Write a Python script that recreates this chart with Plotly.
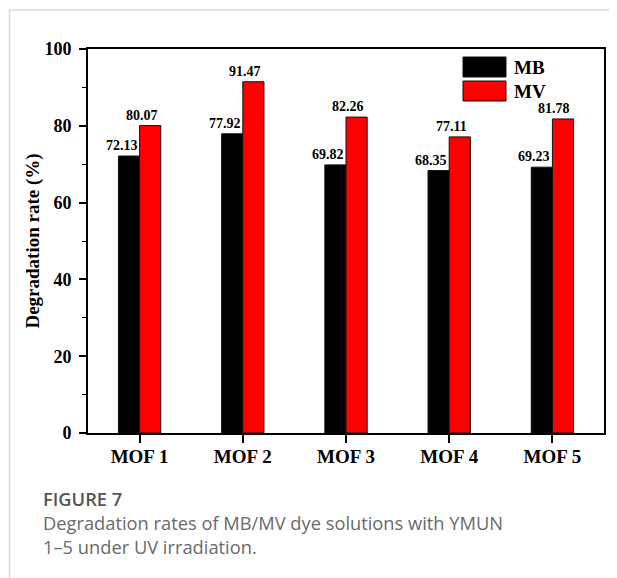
import plotly.graph_objects as go

categories = ["MOF 1", "MOF 2", "MOF 3", "MOF 4", "MOF 5"]
mb_values = [72.13, 77.92, 69.82, 68.35, 69.23]
mv_values = [80.07, 91.47, 82.26, 77.11, 81.78]
series_names = ["MB", "MV"]
series_colors = ["#000000", "#ff0000"]
y_ticks = [0, 20, 40, 60, 80, 100]

SERIF = "Liberation Serif, Times New Roman, serif"
SANS = "Open Sans, Noto Sans, sans-serif"

fig = go.Figure()
for name, vals, col in zip(series_names, [mb_values, mv_values], series_colors):
    fig.add_trace(go.Bar(
        x=categories, y=vals, name=name,
        marker=dict(color=col, line=dict(color="#111111", width=1)),
        showlegend=False,
    ))

# page body has an 8px margin; work in window coordinates
OFF = 8
W, H = 617 - OFF, 578 - OFF
PL, PR, PT, PB = 88, 604, 49, 433  # plot area in window px
L, T = PL - OFF, PT - OFF
R = W - (PR - OFF)
B = H - (PB - OFF)
pw, ph = PR - PL, PB - PT

def px(x):
    return (x - PL) / pw

def py(y):
    return (PB - y) / ph

shapes = []
annotations = []

# value labels above the bars (placed on the data axes)
for vals, shift in zip([mb_values, mv_values], [-18, 2]):
    for cat, v in zip(categories, vals):
        annotations.append(dict(x=cat, y=v, xref="x", yref="y", text=f"{v:.2f}",
                                showarrow=False, xanchor="center", yanchor="bottom",
                                xshift=shift, yshift=1,
                                font=dict(family=SERIF, size=14, color="black", weight="bold")))

# manual legend
for i, (name, col) in enumerate(zip(series_names, series_colors)):
    top = 57 + i * 24
    shapes.append(dict(type="rect", xref="paper", yref="paper",
                       x0=px(463), x1=px(506), y0=py(top + 20), y1=py(top),
                       fillcolor=col, line=dict(color="#111111", width=1)))
    annotations.append(dict(xref="paper", yref="paper", x=px(512), y=py(top + 10),
                            text=name, showarrow=False, xanchor="left", yanchor="middle",
                            font=dict(family=SERIF, size=19, color="black", weight="bold")))

# page frame lines
shapes.append(dict(type="line", xref="paper", yref="paper", x0=px(9.5), x1=px(630),
                   y0=py(10), y1=py(10), line=dict(color="#d9d9d9", width=1.5)))
shapes.append(dict(type="line", xref="paper", yref="paper", x0=px(9.5), x1=px(9.5),
                   y0=py(10), y1=py(590), line=dict(color="#d9d9d9", width=1.5)))

# caption
caption = ('<span style="font-weight:600;color:#555555">FIGURE 7</span><br>'
           'Degradation rates of MB/MV dye solutions with YMUN<br>'
           '1–5 under UV irradiation.')
annotations.append(dict(xref="paper", yref="paper", x=px(41), y=py(522), text=caption,
                        showarrow=False, xanchor="left", yanchor="middle", align="left",
                        font=dict(family=SANS, size=18.3, color="#6a6a6a")))

fig.update_layout(
    width=W, height=H,
    margin=dict(l=L, r=R, t=T, b=B, autoexpand=False),
    paper_bgcolor="white", plot_bgcolor="white",
    barmode="group", bargap=0.59, bargroupgap=0,
    shapes=shapes, annotations=annotations,
    xaxis=dict(
        showline=True, linecolor="black", linewidth=2, mirror=True,
        ticks="outside", ticklen=8, tickwidth=1.5, tickcolor="black",
        tickfont=dict(family=SERIF, size=19, color="black", weight="bold"),
        ticklabelstandoff=-3,
        showgrid=False, range=[-0.5, 4.5],
    ),
    yaxis=dict(
        range=[0, 100], tickvals=y_ticks,
        showline=True, linecolor="black", linewidth=2, mirror=True,
        ticks="outside", ticklen=7, tickwidth=1.5, tickcolor="black",
        minor=dict(dtick=10, ticks="outside", ticklen=4, tickwidth=1.2, tickcolor="black"),
        tickfont=dict(family=SERIF, size=18, color="black", weight="bold"),
        ticklabelstandoff=4,
        showgrid=False, zeroline=False,
        title=dict(text="Degradation rate (%)", standoff=0,
                   font=dict(family=SERIF, size=19, color="black", weight="bold")),
    ),
)

fig.write_html("out.html")
